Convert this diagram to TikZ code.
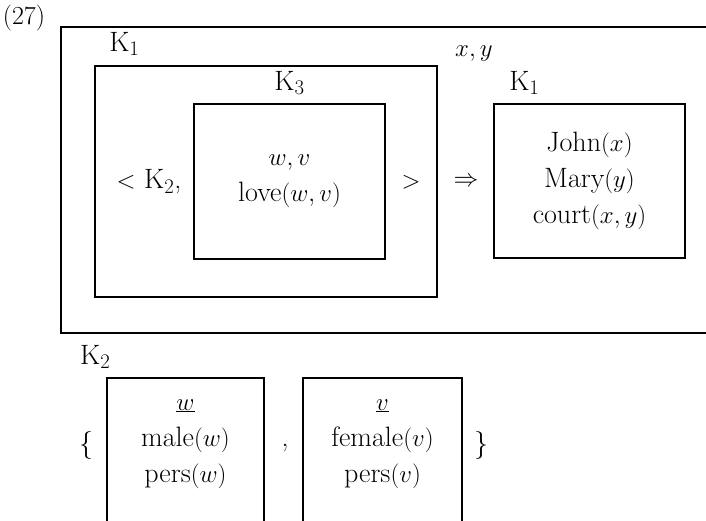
\documentclass[tikz,border=0pt]{standalone}
\usetikzlibrary{positioning}
\begin{document}
\begin{tikzpicture}[
			x=1pt, y=-1pt,
			font=\fontsize{28}{36}\selectfont,
			box/.style={rectangle, draw, line width=1.8pt, inner sep=0pt, align=center},
			lab/.style={inner sep=0pt, anchor=base west},
			txt/.style={inner sep=0pt, align=center}
			]
			\useasboundingbox (0,0) rectangle (706,521);
			\clip (0,0) rectangle (706,521);
			\node[txt, font=\fontsize{26}{30}\selectfont] (num) at (24,18) {(27)};
			% outer box, open to the right
			\node[box, minimum width=700pt, minimum height=306pt] (outer) at (411,180) {};
			\node[lab] (xy) at (455,57) {$x,y$};
			% left embedded box
			\node[box, minimum width=342pt, minimum height=231pt] (kone) at (266,181.5) {};
			\node[lab, above right=9pt and 15pt of kone.north west, anchor=south west] (konelab) {K$_1$};
			\node[box, minimum width=191pt, minimum height=155pt] (kthree) at (289.5,181.5) {$w,v$\\love$(w,v)$};
			\node[txt, above=8pt of kthree] (kthreelab) {K$_3$};
			\node[txt] (open) at (149,182) {$<$ K$_2$,};
			\node[txt] (close) at (411,182) {$>$};
			\node[txt] (impl) at (466,182) {$\Rightarrow$};
			% right box
			\node[box, minimum width=191pt, minimum height=154pt] (kfour) at (589.5,181) {John$(x)$\\Mary$(y)$\\court$(x,y)$};
			\node[lab, above right=8pt and 16pt of kfour.north west, anchor=south west] (kfourlab) {K$_1$};
			% K2, open at the bottom
			\node[lab] (ktwolab) at (80,364) {K$_2$};
			\node[txt] (lbrace) at (86,445) {\{};
			\node[box, minimum width=157pt, minimum height=240pt] (wbox) at (185.5,498) {};
			\node[txt] (wtxt) at (185.5,444) {$\underline{w}$\\male$(w)$\\pers$(w)$};
			\node[txt] (comma) at (285,448) {,};
			\node[box, minimum width=159pt, minimum height=240pt] (vbox) at (382.5,498) {};
			\node[txt] (vtxt) at (382.5,444) {$\underline{v}$\\female$(v)$\\pers$(v)$};
			\node[txt] (rbrace) at (481,445) {\}};
		\end{tikzpicture}
\end{document}
